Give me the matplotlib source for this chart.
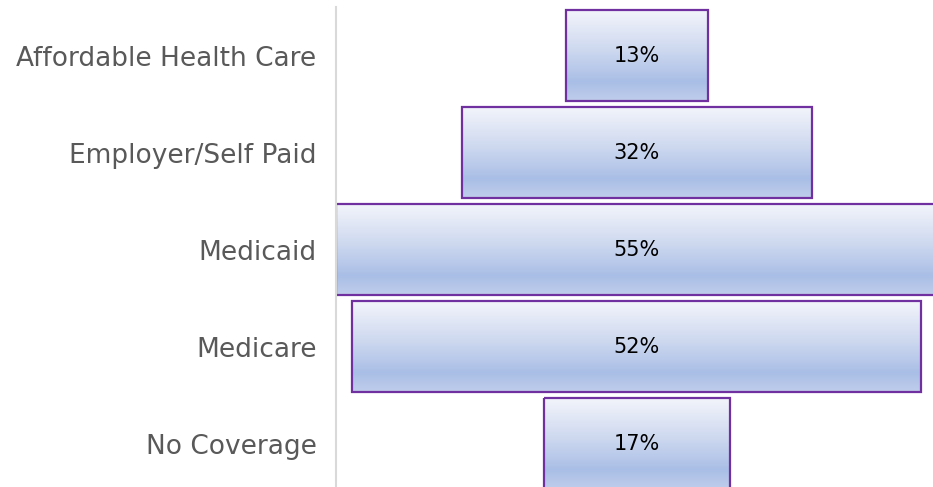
import matplotlib.pyplot as plt
import numpy as np
from matplotlib.colors import LinearSegmentedColormap

# coverage type shares (funnel chart)
categories = ['Affordable Health Care', 'Employer/Self Paid', 'Medicaid', 'Medicare', 'No Coverage']
shares = [13, 32, 55, 52, 17]
labels = ['13%', '32%', '55%', '52%', '17%']

fig = plt.figure(figsize=(9.33, 4.87), dpi=100)
ax = fig.add_axes([0.360, -0.0103, 0.645, 0.9959])

grad = LinearSegmentedColormap.from_list(
    'bar_grad', [(0.0, '#f3f5fb'), (0.45, '#cdd8ef'), (0.8, '#a9bee6'), (1.0, '#bfcdeb')])
g = np.linspace(0, 1, 64).reshape(-1, 1)

ypos = np.arange(len(categories))
height = 0.94
bars = ax.barh(ypos, shares, left=[-s / 2 for s in shares], height=height,
               facecolor='none', edgecolor='#7030a0', linewidth=1.6, zorder=3)

for b, y, s, lab in zip(bars, ypos, shares, labels):
    # vertical gradient fill behind each bar
    ax.imshow(g, cmap=grad, aspect='auto', zorder=2,
              extent=[-s / 2, s / 2, y + height / 2, y - height / 2])
    ax.text(0, y, lab, ha='center', va='center', fontsize=15, color='black', zorder=4)

ax.set_xlim(-27.5, 27.5)
ax.set_ylim(len(categories) - 0.5, -0.5)
ax.set_yticks(ypos)
ax.set_yticklabels(categories, fontsize=19, color='#595959')
ax.tick_params(axis='y', length=0, pad=14)
ax.set_xticks([])
for side in ['top', 'right', 'bottom']:
    ax.spines[side].set_visible(False)
ax.spines['left'].set_color('#d9d9d9')
ax.spines['left'].set_linewidth(1.5)
ax.spines['left'].set_zorder(5)

fig.savefig('out.png', dpi=100)
